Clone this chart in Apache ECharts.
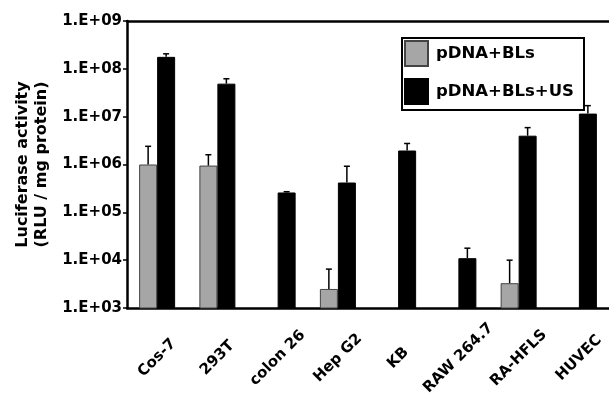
<!DOCTYPE html>
<html>
<head>
<meta charset="utf-8">
<script src="https://cdn.jsdelivr.net/npm/echarts@6/dist/echarts.min.js"></script>
<style>
  html, body { margin: 0; padding: 0; background: #fff; }
  #chart { width: 609px; height: 411px; }
</style>
</head>
<body>
<div id="chart"></div>
<script>
const categories = ['Cos-7', '293T', 'colon 26', 'Hep G2', 'KB', 'RAW 264.7', 'RA-HFLS', 'HUVEC'];
// pDNA+BLs (null = below the axis floor)
const grayVals = [1.0e6, 9.5e5, null, 2.5e3, null, null, 3.3e3, null];
const grayUpper = [2.4e6, 1.6e6, null, 6.5e3, null, null, 1.0e4, null];
// pDNA+BLs+US
const blackVals = [1.78e8, 4.9e7, 2.6e5, 4.2e5, 1.96e6, 1.1e4, 4.0e6, 1.16e7];
const blackUpper = [2.06e8, 6.2e7, 2.7e5, 9.2e5, 2.75e6, 1.78e4, 5.9e6, 1.7e7];

const FONT = 'DejaVu Sans';
const BAR_W = 18;

function errData(vals, upper) {
  const out = [];
  vals.forEach((v, i) => {
    if (v != null && upper[i] != null) out.push([i, v, upper[i]]);
  });
  return out;
}

function errRender(offset) {
  return function(params, api) {
    const i = api.value(0);
    const lo = api.coord([i, api.value(1)]);
    const hi = api.coord([i, api.value(2)]);
    const x = lo[0] + offset;
    const st = { stroke: '#000', lineWidth: 1.5 };
    return {
      type: 'group',
      children: [
        { type: 'line', shape: { x1: x, y1: lo[1], x2: x, y2: hi[1] }, style: st },
        { type: 'line', shape: { x1: x - 3, y1: hi[1], x2: x + 3, y2: hi[1] }, style: st }
      ]
    };
  };
}

const chart = echarts.init(document.getElementById('chart'));
chart.setOption({
  animation: false,
  textStyle: { fontFamily: FONT },
  grid: { left: 127, right: 0, top: 21, bottom: 103 },
  // legend frame (the legend's own box came out too wide)
  graphic: [{
    type: 'rect',
    left: 401,
    top: 37,
    z: 9,
    shape: { width: 182, height: 72 },
    style: { fill: '#fff', stroke: '#000', lineWidth: 2 }
  }],
  legend: {
    orient: 'vertical',
    left: 402,
    top: 38,
    padding: 2,
    itemWidth: 23,
    itemHeight: 25,
    itemGap: 11,
    icon: 'rect',
    z: 10,
    textStyle: { fontFamily: FONT, fontWeight: 'bold', fontSize: 16.5, color: '#000', padding: [0, 0, 0, 3] },
    data: ['pDNA+BLs', 'pDNA+BLs+US']
  },
  xAxis: [
    {
      type: 'category',
      data: categories,
      axisLine: { lineStyle: { color: '#000', width: 2.5 } },
      axisTick: { show: false },
      axisLabel: {
        rotate: 45,
        align: 'center',
        verticalAlign: 'middle',
        margin: 50,
        fontFamily: FONT,
        fontWeight: 'bold',
        fontSize: 15,
        color: '#000',
        interval: 0
      }
    },
    {
      type: 'category',
      position: 'top',
      data: categories,
      axisLine: { lineStyle: { color: '#000', width: 2.5 } },
      axisTick: { show: false },
      axisLabel: { show: false }
    }
  ],
  yAxis: {
    type: 'log',
    logBase: 10,
    min: 1e3,
    max: 1e9,
    name: 'Luciferase activity\n(RLU / mg protein)',
    nameLocation: 'middle',
    nameGap: 76,
    nameTextStyle: { fontFamily: FONT, fontWeight: 'bold', fontSize: 16, color: '#000', lineHeight: 19 },
    axisLine: { show: true, lineStyle: { color: '#000', width: 2.5 } },
    axisTick: { show: true, length: 4, lineStyle: { color: '#000', width: 1.5 } },
    splitLine: { show: false },
    minorTick: { show: false },
    axisLabel: {
      margin: 5,
      fontFamily: FONT,
      fontWeight: 'bold',
      fontSize: 15,
      color: '#000',
      formatter: function(v) {
        const e = Math.round(Math.log10(v));
        return '1.E+' + String(e).padStart(2, '0');
      }
    }
  },
  series: [
    {
      name: 'pDNA+BLs',
      type: 'bar',
      barWidth: BAR_W,
      barGap: '0%',
      itemStyle: { color: '#a6a6a6', borderColor: '#444', borderWidth: 1 },
      data: grayVals
    },
    {
      name: 'pDNA+BLs+US',
      type: 'bar',
      barWidth: BAR_W,
      barGap: '0%',
      itemStyle: { color: '#000', borderColor: '#000', borderWidth: 1 },
      data: blackVals
    },
    {
      type: 'custom',
      renderItem: errRender(-BAR_W / 2),
      encode: { x: 0, y: [1, 2] },
      z: 3,
      data: errData(grayVals, grayUpper)
    },
    {
      type: 'custom',
      renderItem: errRender(BAR_W / 2),
      encode: { x: 0, y: [1, 2] },
      z: 3,
      data: errData(blackVals, blackUpper)
    }
  ]
});
</script>
</body>
</html>
